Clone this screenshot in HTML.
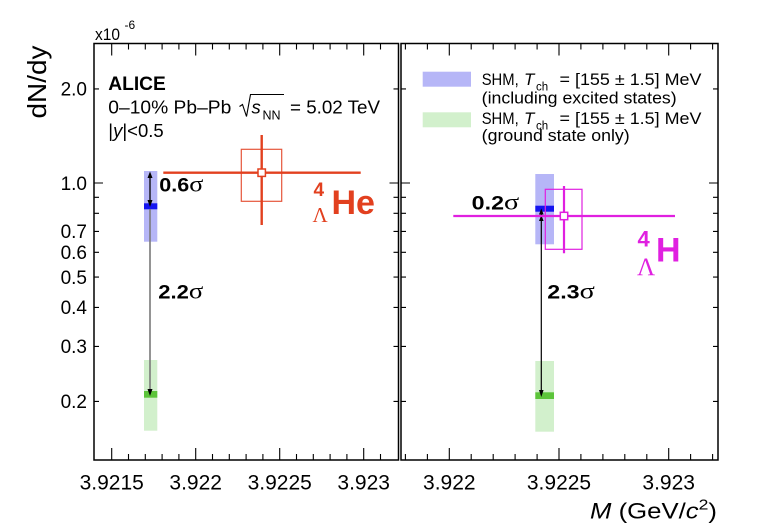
<!DOCTYPE html>
<html>
<head>
<meta charset="utf-8">
<style>
html,body{margin:0;padding:0;background:#fff;}
svg{display:block;}
text{font-family:"Liberation Sans",Arial,sans-serif;fill:#000;}
.ser{font-family:"Liberation Serif","Times New Roman",serif;}
</style>
</head>
<body>
<svg width="760" height="532" viewBox="0 0 760 532" xmlns="http://www.w3.org/2000/svg">
<rect width="760" height="532" fill="#fff"/>

<!-- bands -->
<rect x="144" y="171" width="13.3" height="70.7" fill="#b6b6f7"/>
<rect x="144" y="360" width="13.3" height="70.7" fill="#d2f0cc"/>
<rect x="535.3" y="174" width="18.7" height="70.3" fill="#b6b6f7"/>
<rect x="535.3" y="361" width="18.7" height="70.7" fill="#d2f0cc"/>

<!-- bars -->
<rect x="144" y="203.3" width="13.3" height="6" fill="#1414f0"/>
<rect x="144" y="391" width="13.3" height="6.7" fill="#5cc43a"/>
<rect x="535.3" y="205.7" width="18.7" height="6" fill="#1414f0"/>
<rect x="535.3" y="392.3" width="18.7" height="6.7" fill="#5cc43a"/>

<!-- left arrows -->
<line x1="150" y1="209" x2="150" y2="390" stroke="#7a7a7a" stroke-width="1.6"/>
<line x1="150" y1="176" x2="150" y2="202" stroke="#000" stroke-width="1.3"/>
<polygon points="150,171.5 147.5,178 152.5,178" fill="#000"/>
<polygon points="150,207 147.5,200 152.5,200" fill="#000"/>
<polygon points="150,396 147.5,389 152.5,389" fill="#000"/>

<!-- right arrows -->
<line x1="541.3" y1="211" x2="541.3" y2="392" stroke="#000" stroke-width="1.2"/>
<polygon points="541.3,208.5 539,214.5 543.6,214.5" fill="#000"/>
<polygon points="541.3,215 539,221 543.6,221" fill="#000"/>
<polygon points="541.3,397 539,390 543.6,390" fill="#000"/>

<!-- red data point -->
<g stroke="#e2401f" fill="none">
<rect x="241.3" y="149.3" width="40.4" height="52" stroke-width="1.2" stroke="#e5553a"/>
<line x1="163.3" y1="172.7" x2="360.7" y2="172.7" stroke-width="2.4"/>
<line x1="261.7" y1="135" x2="261.7" y2="225" stroke-width="2.4"/>
<rect x="258" y="169" width="7.4" height="7.4" fill="#fff" stroke-width="1.5"/>
</g>

<!-- magenta data point -->
<g stroke="#e020e0" fill="none">
<rect x="545.3" y="189.3" width="36.7" height="60" stroke-width="1.2"/>
<line x1="453.3" y1="216" x2="675" y2="216" stroke-width="2.2"/>
<line x1="564" y1="186" x2="564" y2="253.3" stroke-width="2.2"/>
<rect x="560.3" y="212.3" width="7.4" height="7.4" fill="#fff" stroke-width="1.5"/>
</g>

<!-- frames -->
<rect x="94" y="43.5" width="304.5" height="416.5" fill="none" stroke="#000" stroke-width="1.5"/>
<rect x="401" y="43.5" width="317" height="416.5" fill="none" stroke="#000" stroke-width="1.5"/>

<!-- x ticks -->
<g stroke="#000" stroke-width="1.1">
<path d="M111.7,460V448M195.7,460V448M279.7,460V448M363.7,460V448
M111.7,43.5V55.5M195.7,43.5V55.5M279.7,43.5V55.5M363.7,43.5V55.5"/>
<path d="M128.5,460V454M145.3,460V454M162.1,460V454M178.9,460V454M212.5,460V454M229.3,460V454M246.1,460V454M262.9,460V454M296.5,460V454M313.3,460V454M330.1,460V454M346.9,460V454M380.5,460V454
M128.5,43.5V49.5M145.3,43.5V49.5M162.1,43.5V49.5M178.9,43.5V49.5M212.5,43.5V49.5M229.3,43.5V49.5M246.1,43.5V49.5M262.9,43.5V49.5M296.5,43.5V49.5M313.3,43.5V49.5M330.1,43.5V49.5M346.9,43.5V49.5M380.5,43.5V49.5"/>
<path d="M449.3,460V448M559,460V448M668.7,460V448
M449.3,43.5V55.5M559,43.5V55.5M668.7,43.5V55.5"/>
<path d="M405.4,460V454M427.4,460V454M471.2,460V454M493.2,460V454M515.1,460V454M537.1,460V454M580.9,460V454M602.9,460V454M624.8,460V454M646.8,460V454M690.6,460V454M712.6,460V454
M405.4,43.5V49.5M427.4,43.5V49.5M471.2,43.5V49.5M493.2,43.5V49.5M515.1,43.5V49.5M537.1,43.5V49.5M580.9,43.5V49.5M602.9,43.5V49.5M624.8,43.5V49.5M646.8,43.5V49.5M690.6,43.5V49.5M712.6,43.5V49.5"/>
</g>

<!-- y ticks -->
<g stroke="#000" stroke-width="1.1">
<path d="M94,401.4h5M94,346.4h5M94,307.4h5M94,277.1h5M94,252.3h5M94,231.4h5M94,213.3h5M94,197.3h5M94,183h9M94,88.9h5
M398.5,401.4h-5M398.5,346.4h-5M398.5,307.4h-5M398.5,277.1h-5M398.5,252.3h-5M398.5,231.4h-5M398.5,213.3h-5M398.5,197.3h-5M398.5,183h-9M398.5,88.9h-5
M401,401.4h5M401,346.4h5M401,307.4h5M401,277.1h5M401,252.3h5M401,231.4h5M401,213.3h5M401,197.3h5M401,183h9M401,88.9h5
M718,401.4h-5M718,346.4h-5M718,307.4h-5M718,277.1h-5M718,252.3h-5M718,231.4h-5M718,213.3h-5M718,197.3h-5M718,183h-9M718,88.9h-5"/>
</g>

<!-- y labels -->
<g font-size="19" text-anchor="end">
<text x="87" y="408.2">0.2</text>
<text x="87" y="353.2">0.3</text>
<text x="87" y="314.2">0.4</text>
<text x="87" y="283.9">0.5</text>
<text x="87" y="259.1">0.6</text>
<text x="87" y="238.2">0.7</text>
<text x="87" y="189.8">1.0</text>
<text x="87" y="95.7">2.0</text>
</g>

<!-- x labels -->
<g font-size="21" text-anchor="middle">
<text x="111.7" y="489.5">3.9215</text>
<text x="195.7" y="489.5">3.922</text>
<text x="279.7" y="489.5">3.9225</text>
<text x="363.7" y="489.5">3.923</text>
<text x="449.3" y="489.5">3.922</text>
<text x="559" y="489.5">3.9225</text>
<text x="668.7" y="489.5">3.923</text>
</g>

<!-- axis titles -->
<text x="590" y="518.3" font-size="22" textLength="127" lengthAdjust="spacingAndGlyphs"><tspan font-style="italic">M</tspan> (GeV/<tspan font-style="italic">c</tspan><tspan font-size="15" dy="-9">2</tspan><tspan dy="9">)</tspan></text>
<text transform="translate(46,82) rotate(-90)" font-size="26" text-anchor="middle" textLength="73" lengthAdjust="spacingAndGlyphs">dN/dy</text>
<text x="95" y="40" font-size="17" textLength="25" lengthAdjust="spacingAndGlyphs">x10</text>
<text x="124.5" y="29" font-size="12">-6</text>

<!-- ALICE block -->
<text x="108.3" y="90" font-size="19" font-weight="bold" textLength="57.5" lengthAdjust="spacingAndGlyphs">ALICE</text>
<text x="108.3" y="113.3" font-size="18.5" textLength="123" lengthAdjust="spacingAndGlyphs">0–10% Pb–Pb</text>
<path d="M239.5,106.5 L242.5,104.5 L246.5,116.5 L250.5,94.5 L284,94.5" fill="none" stroke="#000" stroke-width="1.1"/>
<text x="251.5" y="113.3" font-size="18.5" font-style="italic">s</text>
<text x="262.5" y="119.3" font-size="12.5">NN</text>
<text x="290" y="113.3" font-size="18.5" textLength="90" lengthAdjust="spacingAndGlyphs">= 5.02 TeV</text>
<text x="108.3" y="137" font-size="18.5">|<tspan font-style="italic">y</tspan>|&lt;0.5</text>

<!-- legend -->
<rect x="422.7" y="71.7" width="48.3" height="15" fill="#b6b6f7"/>
<rect x="422.7" y="112.3" width="48.3" height="15" fill="#d2f0cc"/>
<g font-size="17">
<text x="481.7" y="85" textLength="37" lengthAdjust="spacingAndGlyphs">SHM,</text>
<text x="524" y="85" font-style="italic">T</text>
<text x="536" y="90.7" font-size="11.5">ch</text>
<text x="559.5" y="85" textLength="142" lengthAdjust="spacingAndGlyphs">= [155 ± 1.5] MeV</text>
<text x="481.7" y="103.3" textLength="195" lengthAdjust="spacingAndGlyphs">(including excited states)</text>
<text x="481.7" y="124" textLength="37" lengthAdjust="spacingAndGlyphs">SHM,</text>
<text x="524" y="124" font-style="italic">T</text>
<text x="536" y="129.7" font-size="11.5">ch</text>
<text x="559.5" y="124" textLength="142" lengthAdjust="spacingAndGlyphs">= [155 ± 1.5] MeV</text>
<text x="481.7" y="141" textLength="148" lengthAdjust="spacingAndGlyphs">(ground state only)</text>
</g>

<!-- sigma labels -->
<g font-size="19" font-weight="bold">
<text x="159.3" y="191.5" textLength="44" lengthAdjust="spacingAndGlyphs">0.6<tspan class="ser" font-weight="normal" font-size="23">σ</tspan></text>
<text x="158.3" y="298.3" textLength="45" lengthAdjust="spacingAndGlyphs">2.2<tspan class="ser" font-weight="normal" font-size="23">σ</tspan></text>
<text x="471.7" y="209.3" textLength="47.5" lengthAdjust="spacingAndGlyphs">0.2<tspan class="ser" font-weight="normal" font-size="23">σ</tspan></text>
<text x="547.3" y="298.3" textLength="47.5" lengthAdjust="spacingAndGlyphs">2.3<tspan class="ser" font-weight="normal" font-size="23">σ</tspan></text>
</g>

<!-- hypernucleus labels -->
<text x="313.5" y="196" font-size="19" font-weight="bold" style="fill:#e2401f">4</text>
<text x="312.5" y="222" font-size="21" class="ser" style="fill:#e2401f">Λ</text>
<text x="331.5" y="214" font-size="34" font-weight="bold" style="fill:#e2401f">He</text>

<text x="637.5" y="246.5" font-size="22" font-weight="bold" style="fill:#e020e0">4</text>
<text x="637" y="275" font-size="25" class="ser" style="fill:#e020e0">Λ</text>
<text x="656" y="261.7" font-size="34" font-weight="bold" style="fill:#e020e0">H</text>
</svg>
</body>
</html>
